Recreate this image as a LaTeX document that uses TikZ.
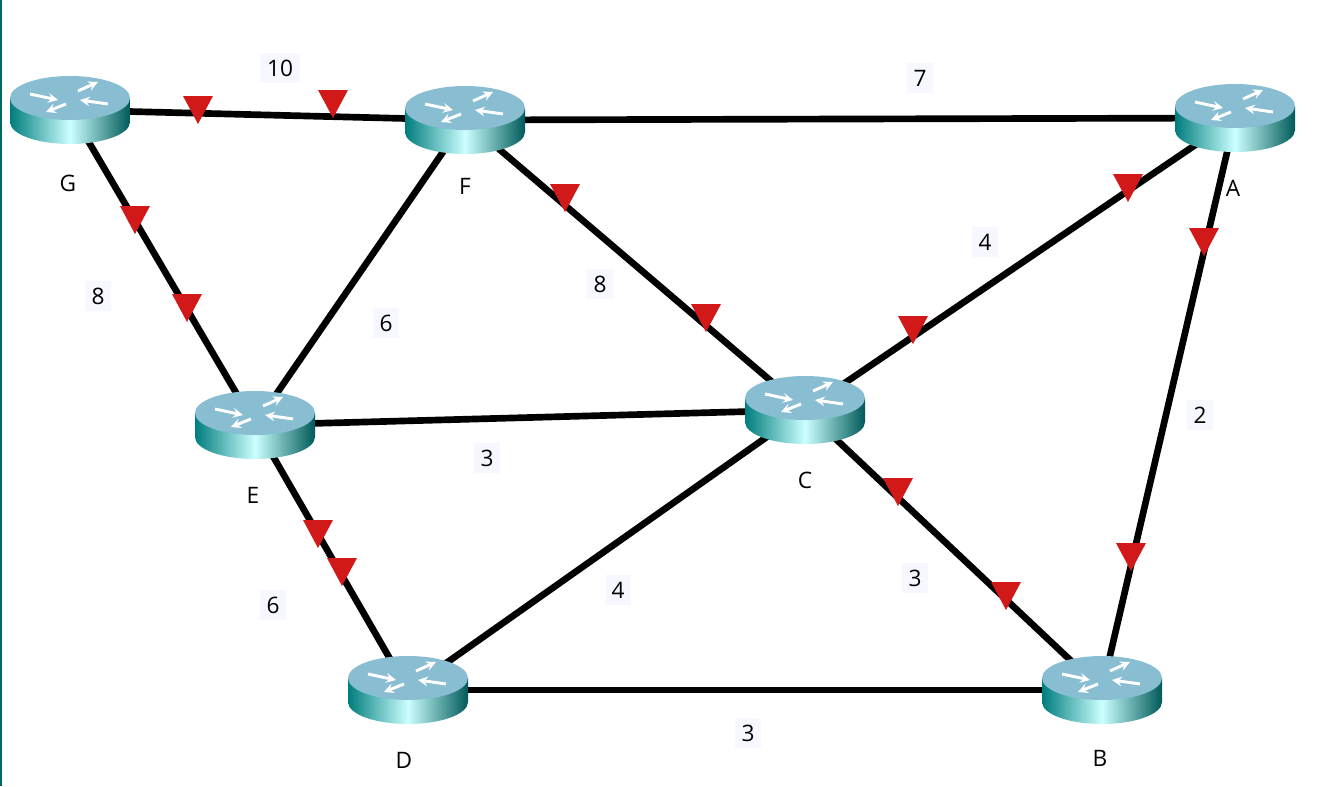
\documentclass[tikz,border=0pt]{standalone}
\usepackage{fontspec}
\setmainfont{Open Sans}
\begin{document}
\begin{tikzpicture}[x=0.75pt,y=-0.75pt,
  link/.style={line width=5pt,black},
  tri/.style={fill=red!80!black!90,draw=none},
  wt/.style={fill=blue!3,inner sep=5pt,font=\fontsize{17}{20}\selectfont},
  nm/.style={font=\fontsize{17}{20}\selectfont}]
\useasboundingbox (0,0) rectangle (1318,786);
\fill[teal!80!black] (0,0) rectangle (2,786);
\coordinate (G) at (70,110); \coordinate (F) at (465,120); \coordinate (A) at (1235,118);
\coordinate (E) at (255,425); \coordinate (C) at (805,410); \coordinate (D) at (408,690);
\coordinate (B) at (1102,690);
\foreach \a/\b in {G/F,F/A,G/E,F/E,F/C,A/C,A/B,E/C,E/D,C/D,C/B,D/B}
  \draw[link] (\a) -- (\b);
\tikzset{router/.pic={
  \shade[left color=teal!60!cyan!70!black, right color=teal!70!black, middle color=white!80!cyan]
    (-60,-12) -- (-60,12) arc[start angle=180,end angle=0,x radius=60,y radius=22] -- (60,-12) -- cycle;
  \fill[cyan!35!teal!55!white] (0,-12) ellipse[x radius=60,y radius=22];
  \begin{scope}[white,line width=2.2pt,->,>=stealth]
   \draw (-40,-16) -- (-12,-10);
   \draw (38,-6) -- (10,-10);
   \draw (8,-19) -- (28,-28);
   \draw (-4,-6) -- (-24,2);
  \end{scope}}}
\foreach \n in {G,F,A,E,C,D,B} \pic at (\n) {router};
\foreach \x/\y in {198/110,333/104,135/220,187/308,565/198,706/318,1128/188,913/330,1204/242,1131/557,318/534,342/572,898/492,1006/596}
  \fill[tri] (\x-15,\y-14) -- (\x+15,\y-14) -- (\x,\y+14) -- cycle;
\node[wt] (w1) at (280,68) {10};
\node[wt] (w2) at (920,78) {7};
\node[wt] (w3) at (98,296) {8};
\node[wt] (w4) at (386,323) {6};
\node[wt] (w5) at (600,284) {8};
\node[wt] (w6) at (985,242) {4};
\node[wt] (w7) at (1200,415) {2};
\node[wt] (w8) at (487,458) {3};
\node[wt] (w9) at (618,590) {4};
\node[wt] (w10) at (915,578) {3};
\node[wt] (w11) at (273,605) {6};
\node[wt] (w12) at (748,733) {3};
\node[nm] (lG) at (68,183) {G};
\node[nm] (lF) at (465,186) {F};
\node[nm] (lA) at (1233,188) {A};
\node[nm] (lE) at (253,495) {E};
\node[nm] (lC) at (805,480) {C};
\node[nm] (lD) at (404,760) {D};
\node[nm] (lB) at (1100,758) {B};
\end{tikzpicture}
\end{document}
